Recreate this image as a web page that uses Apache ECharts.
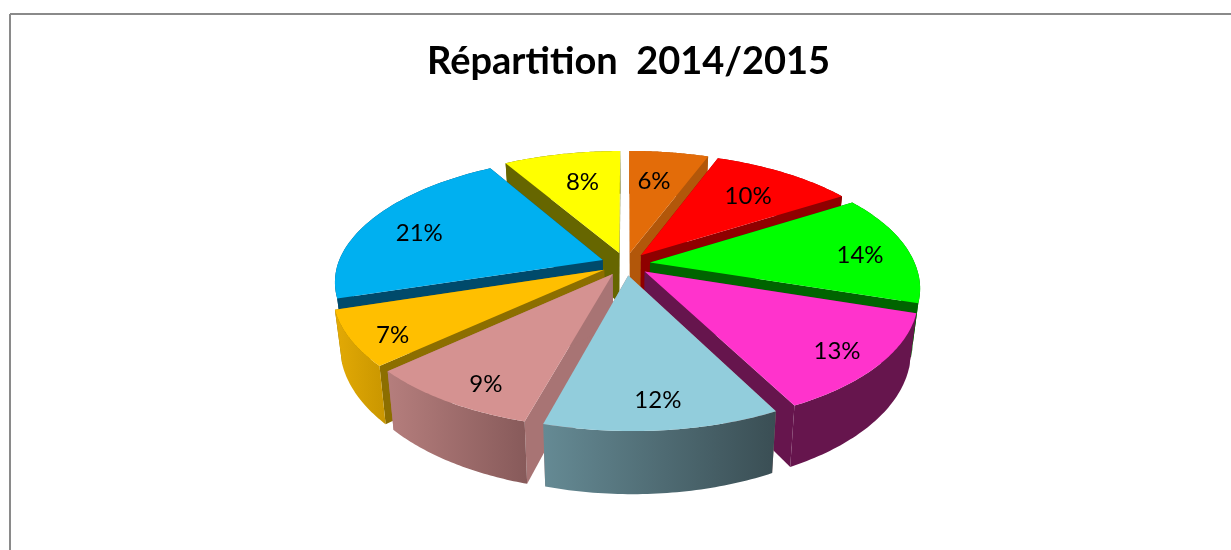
<!DOCTYPE html>
<html><head><meta charset="utf-8">
<style>html,body{margin:0;padding:0;background:#fff}#c{width:1231px;height:550px}</style>
<script src="https://cdn.jsdelivr.net/npm/echarts@6/dist/echarts.min.js"></script>
</head><body><div id="c"></div>
<script>
var titleText = 'Répartition  2014/2015';
var categories = ['Orange', 'Rouge', 'Vert', 'Magenta', 'Bleu clair', 'Rose', 'Or', 'Bleu', 'Jaune'];
var values = [5.7, 10.3, 14, 12.5, 11.8, 8.8, 6.9, 21.4, 8.4];
var topColors = ['#E36C09', '#FF0000', '#00FF00', '#FF33CC', '#92CDDC', '#D59291', '#FFBF00', '#00B0F0', '#FFFF00'];
var faceColors = ['#B2570A', '#8F0000', '#006400', '#66154D', '#A87474', '#A87474', '#8C6E00', '#004A6B', '#666600'];
var wallFrom = ['#B2570A', '#8F0000', '#006400', '#66154D', '#658A94', '#B57E7D', '#E3AA05', '#004A6B', '#666600'];
var wallTo = ['#B2570A', '#8F0000', '#006400', '#66154D', '#3A4E54', '#875A5A', '#C99600', '#004A6B', '#666600'];

// projection of the tilted pie (plane coordinates, radius 1)
var CX = 625.6, CY = 264, FX = 265, FY = 123.5, PERSP = 0.176, EXPLODE = 0.093, DEPTH = 51, SHRINK = 0.975, SKEW = 3.5;
// hand placement of the data labels relative to their computed anchor
var LABEL_NUDGE = [[-5, 3], [-1, 3], [9, 4], [-1, 3], [0, -6], [12, 4], [-4, 9], [-6, 5], [6, 3]];
var total = values.reduce(function (a, b) { return a + b; }, 0);
function angles(i) {
  var s = 0;
  for (var k = 0; k < i; k++) s += values[k];
  return [s / total * 2 * Math.PI, (s + values[i]) / total * 2 * Math.PI];
}
function project(i, r, th) {
  var a = angles(i), phi = (a[0] + a[1]) / 2;
  var u = r * Math.sin(th) + EXPLODE * Math.sin(phi);
  var v = -r * Math.cos(th) - EXPLODE * Math.cos(phi);
  var d = 1 - PERSP * v;
  return [CX + FX * u / d + SKEW * Math.max(v, 0), CY + FY * v / d, d];
}
function lower(p) {
  return [CX + (p[0] - CX) * SHRINK, p[1] + DEPTH / p[2]];
}
function arc(i) {
  var a = angles(i), pts = [], n = 48;
  for (var k = 0; k <= n; k++) pts.push(project(i, 1, a[0] + (a[1] - a[0]) * k / n));
  return pts;
}
function poly(points, fill, z2) {
  return { type: 'polygon', z2: z2, shape: { points: points }, style: { fill: fill } };
}
function xy(p) { return [p[0], p[1]]; }

function renderWalls(params) {
  var i = params.dataIndex, a = angles(i), phi = (a[0] + a[1]) / 2;
  var z = Math.round(-Math.cos(phi) * 100) + 200;
  var rim = arc(i), apex = project(i, 0, 0);
  var first = rim[0], last = rim[rim.length - 1];
  var outer = rim.map(xy).concat(rim.slice().reverse().map(lower));
  var grad = { type: 'linear', x: 0, y: 0, x2: 1, y2: 0, colorStops: [
    { offset: 0, color: wallFrom[i] }, { offset: 1, color: wallTo[i] }] };
  return { type: 'group', children: [
    poly([xy(apex), xy(first), lower(first), lower(apex)], faceColors[i], z),
    poly([xy(apex), xy(last), lower(last), lower(apex)], faceColors[i], z),
    poly(outer, grad, z + 1)
  ] };
}
function renderTops(params) {
  var i = params.dataIndex;
  return poly([xy(project(i, 0, 0))].concat(arc(i).map(xy)), topColors[i], 0);
}
function renderLabels(params) {
  var i = params.dataIndex, a = angles(i), phi = (a[0] + a[1]) / 2;
  var r = 0.79 - 0.08 * Math.cos(phi);
  var p = project(i, r, phi);
  return { type: 'text', style: {
    text: Math.round(values[i]) + '%', x: p[0] + LABEL_NUDGE[i][0], y: p[1] + LABEL_NUDGE[i][1], fill: '#000',
    font: '24px Lato', textAlign: 'center', textVerticalAlign: 'middle' } };
}
var rows = values.map(function (v, i) { return { name: categories[i], value: v }; });
var chart = echarts.init(document.getElementById('c'), null, { renderer: 'canvas' });
chart.setOption({
  animation: false,
  backgroundColor: '#fff',
  title: { text: titleText, left: 422, top: 38, textStyle: { fontFamily: 'Lato', fontWeight: 'bold', fontSize: 38, color: '#000' } },
  graphic: [
    { type: 'line', shape: { x1: 10, y1: 14, x2: 1231, y2: 14 }, style: { stroke: '#8A8A8A', lineWidth: 2 } },
    { type: 'line', shape: { x1: 10, y1: 14, x2: 10, y2: 550 }, style: { stroke: '#8A8A8A', lineWidth: 2 } }
  ],
  series: [
    { type: 'custom', coordinateSystem: 'none', name: 'walls', z: 2, silent: true, renderItem: renderWalls, data: rows },
    { type: 'custom', coordinateSystem: 'none', name: 'tops', z: 3, silent: true, renderItem: renderTops, data: rows },
    { type: 'custom', coordinateSystem: 'none', name: 'labels', z: 4, silent: true, renderItem: renderLabels, data: rows }
  ]
});
</script></body></html>
